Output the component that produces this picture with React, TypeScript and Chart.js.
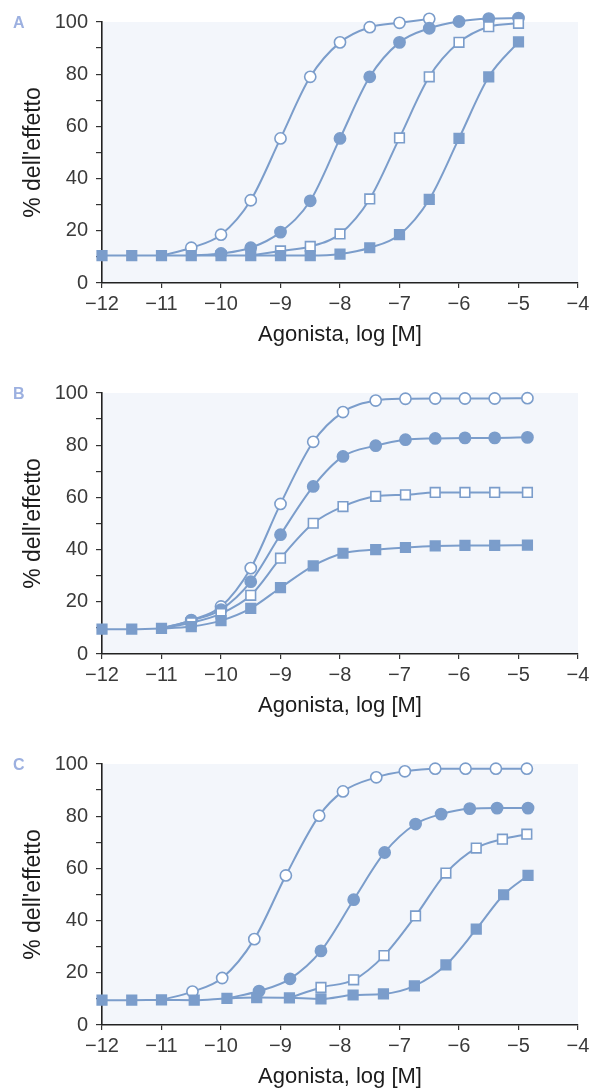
import React, { useEffect, useRef } from 'react';
import { Chart, registerables } from 'chart.js';

Chart.register(...registerables);

// ---------- DATA ----------
// Panel A (common x grid, half-log steps)
const xA = [-12, -11.5, -11, -10.5, -10, -9.5, -9, -8.5, -8, -7.5, -7, -6.5, -6, -5.5, -5];
const aOpenCircles = [null, null, 10.5, 13.5, 18.5, 31.7, 55.4, 79, 92.2, 98, 99.7, 101.2, null, null, null];
const aFilledCircles = [null, null, null, 10.5, 11.3, 13.5, 19.5, 31.5, 55.4, 79, 92.2, 97.6, 100.2, 101.3, 101.5];
const aOpenSquares = [null, null, null, null, null, 10.5, 12.3, 14, 18.8, 32.2, 55.6, 79, 92.2, 98.2, 99.5];
const aFilledSquares = [10.5, 10.5, 10.5, 10.5, 10.5, 10.5, 10.5, 10.5, 11.1, 13.5, 18.5, 32, 55.4, 79, 92.4];

// Panel B (common x grid)
const xB = [-12, -11.5, -11, -10.5, -10, -9.5, -9, -8.45, -7.95, -7.4, -6.9, -6.4, -5.9, -5.4, -4.85];
const bOpenCircles = [null, null, 9.8, 13, 18.2, 32.9, 57.5, 81.3, 92.7, 97.1, 97.8, 97.9, 97.9, 97.9, 98];
const bFilledCircles = [null, null, 9.8, 12.8, 17, 27.7, 45.7, 64.2, 75.7, 79.8, 82.1, 82.6, 82.8, 82.8, 83];
const bOpenSquares = [null, null, 9.8, 12, 15.5, 22.5, 36.7, 50.1, 56.5, 60.4, 61, 61.9, 61.9, 61.9, 61.9];
const bFilledSquares = [9.5, 9.5, 9.8, 10.5, 12.8, 17.5, 25.4, 33.8, 38.6, 40, 40.8, 41.4, 41.6, 41.6, 41.7];

// Panel C (own x grid per series)
const xCOpenCircles = [-11, -10.48, -9.98, -9.44, -8.91, -8.35, -7.95, -7.39, -6.91, -6.4, -5.89, -5.38, -4.86];
const cOpenCircles = [9.6, 12.8, 18, 32.9, 57.3, 80.2, 89.5, 94.9, 97.2, 98.2, 98.2, 98.2, 98.2];
const xCFilledCircles = [-9.9, -9.36, -8.84, -8.32, -7.77, -7.25, -6.73, -6.3, -5.82, -5.36, -4.84];
const cFilledCircles = [10.2, 13, 17.7, 28.4, 48, 66.1, 77, 80.8, 82.9, 83.1, 83.1];
const xCOpenSquares = [-8.85, -8.32, -7.77, -7.26, -6.73, -6.22, -5.71, -5.27, -4.86];
const cOpenSquares = [10.4, 14.4, 17.3, 26.6, 41.8, 58.2, 67.8, 71.2, 73.1];
const xCFilledSquares = [-12, -11.5, -11, -10.45, -9.9, -9.4, -8.85, -8.32, -7.78, -7.27, -6.75, -6.22, -5.71, -5.25, -4.84];
const cFilledSquares = [9.5, 9.5, 9.6, 9.5, 10.2, 10.5, 10.4, 10, 11.5, 11.9, 15, 23, 36.7, 49.9, 57.3];

const yTicks = [0, 20, 40, 60, 80, 100];
const xTicks = [-12, -11, -10, -9, -8, -7, -6, -5, -4];
const xTitle = 'Agonista, log [M]';
const yTitle = "% dell'effetto";

// ---------- STYLE ----------
const COLOR = '#7b9dcb';
const FONT = '"Liberation Sans", Arial, Helvetica, sans-serif';

type Kind = 'openCircle' | 'filledCircle' | 'openSquare' | 'filledSquare';

function makeSeries(xs: number[], ys: (number | null)[], kind: Kind, hideFirst: boolean) {
  const data = xs
    .map((x, i) => ({ x, y: ys[i] }))
    .filter((p) => p.y !== null && p.y !== undefined);
  const isSquare = kind === 'openSquare' || kind === 'filledSquare';
  const isOpen = kind === 'openCircle' || kind === 'openSquare';
  const r = isSquare ? 6.8 : 5.6;
  return {
    data,
    borderColor: COLOR,
    borderWidth: 2,
    fill: false,
    clip: false as any,
    cubicInterpolationMode: 'monotone' as const,
    pointStyle: isSquare ? 'rect' : 'circle',
    pointRadius: (ctx: any) => (hideFirst && ctx.dataIndex === 0 ? 0 : r),
    pointBackgroundColor: isOpen ? '#ffffff' : COLOR,
    pointBorderColor: COLOR,
    pointBorderWidth: 1.6,
  };
}

const bgPlugin = {
  id: 'plotBg',
  beforeDraw(chart: any) {
    const { ctx, chartArea } = chart;
    if (!chartArea) return;
    ctx.save();
    ctx.fillStyle = '#f3f6fb';
    ctx.fillRect(chartArea.left, chartArea.top, chartArea.right - chartArea.left, chartArea.bottom - chartArea.top);
    ctx.restore();
  },
};

function buildOptions(): any {
  return {
    animation: false,
    responsive: false,
    maintainAspectRatio: false,
    layout: { padding: { top: 22, right: 20, left: 0, bottom: 0 } },
    plugins: { legend: { display: false }, tooltip: { enabled: false } },
    scales: {
      x: {
        type: 'linear',
        min: -12,
        max: -4,
        afterFit(s: any) {
          s.height = 66;
        },
        afterBuildTicks(s: any) {
          s.ticks = xTicks.map((v) => ({ value: v }));
        },
        ticks: {
          autoSkip: false,
          maxRotation: 0,
          padding: 4,
          color: '#3a3a3a',
          font: { family: FONT, size: 20 },
          callback: (v: any) => String(v).replace('-', '\u2212'),
        },
        grid: { drawOnChartArea: false, drawTicks: true, tickLength: 5, color: '#333', lineWidth: 1.2 },
        border: { display: true, color: '#222', width: 1.6 },
        title: {
          display: true,
          text: xTitle,
          color: '#1c1c1c',
          font: { family: FONT, size: 22, lineHeight: 1 },
          padding: { top: 0, bottom: 3 },
        },
      },
      y: {
        type: 'linear',
        min: 0,
        max: 100,
        afterFit(s: any) {
          s.width = 102;
        },
        afterBuildTicks(s: any) {
          const t: any[] = [];
          for (let v = 0; v <= 100; v += 10) t.push({ value: v });
          s.ticks = t;
        },
        ticks: {
          autoSkip: false,
          padding: 8,
          color: '#3a3a3a',
          font: { family: FONT, size: 20 },
          callback: (v: any) => (yTicks.includes(v) ? String(v) : ''),
        },
        grid: { drawOnChartArea: false, drawTicks: true, tickLength: 6, color: '#333', lineWidth: 1.2 },
        border: { display: true, color: '#222', width: 1.6 },
        title: {
          display: true,
          text: yTitle,
          color: '#1c1c1c',
          font: { family: FONT, size: 23, lineHeight: 1 },
          padding: { top: 22, bottom: 0 },
        },
      },
    },
  };
}

function Panel({ top, letter, datasets }: { top: number; letter: string; datasets: any[] }) {
  const ref = useRef<HTMLCanvasElement | null>(null);
  useEffect(() => {
    if (!ref.current) return;
    const chart = new Chart(ref.current, {
      type: 'line',
      data: { datasets },
      options: buildOptions(),
      plugins: [bgPlugin],
    });
    return () => chart.destroy();
  }, []);
  return (
    <div style={{ position: 'absolute', left: 0, top, width: 598, height: 349 }}>
      <canvas ref={ref} width={598} height={349} style={{ width: 598, height: 349, display: 'block' }} />
      <div
        style={{
          position: 'absolute',
          left: 13,
          top: 14,
          fontFamily: FONT,
          fontWeight: 'bold',
          fontSize: 16,
          lineHeight: '18px',
          color: '#9cb0e0',
        }}
      >
        {letter}
      </div>
    </div>
  );
}

export default function App() {
  const dsA = [
    makeSeries(xA, aFilledSquares, 'filledSquare', false),
    makeSeries(xA, aOpenSquares, 'openSquare', true),
    makeSeries(xA, aFilledCircles, 'filledCircle', true),
    makeSeries(xA, aOpenCircles, 'openCircle', true),
  ];
  const dsB = [
    makeSeries(xB, bFilledSquares, 'filledSquare', false),
    makeSeries(xB, bOpenSquares, 'openSquare', true),
    makeSeries(xB, bFilledCircles, 'filledCircle', true),
    makeSeries(xB, bOpenCircles, 'openCircle', true),
  ];
  const dsC = [
    makeSeries(xCFilledSquares, cFilledSquares, 'filledSquare', false),
    makeSeries(xCOpenSquares, cOpenSquares, 'openSquare', true),
    makeSeries(xCFilledCircles, cFilledCircles, 'filledCircle', true),
    makeSeries(xCOpenCircles, cOpenCircles, 'openCircle', true),
  ];
  return (
    <div style={{ position: 'absolute', left: 0, top: 0, width: 598, height: 1091, overflow: 'hidden', background: '#fff' }}>
      <Panel top={0} letter="A" datasets={dsA} />
      <Panel top={371} letter="B" datasets={dsB} />
      <Panel top={742} letter="C" datasets={dsC} />
    </div>
  );
}
